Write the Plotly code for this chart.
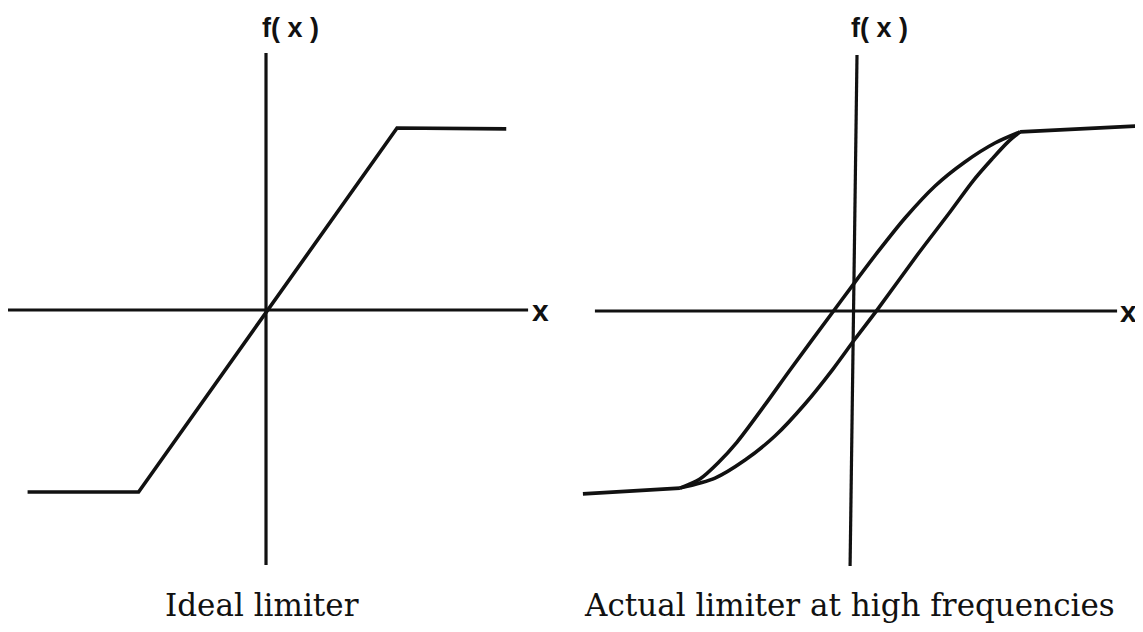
import plotly.graph_objects as go

# ---------------- data (units: saturation level = 1) ----------------
# Left panel: ideal limiter (piecewise linear)
ideal_x = [-1.31, -0.70, 0.72, 1.32]
ideal_y = [-1.00, -1.00, 1.00, 0.995]

# axis extents, left panel
left_haxis_x = [-1.418, 1.440]
left_haxis_y = [0.0, 0.0]
left_vaxis_x = [0.0, 0.0]
left_vaxis_y = [-1.401, 1.412]

# Right panel: actual limiter at high frequencies (hysteresis loop)
flat_low_x = [-1.495, -0.962]
flat_low_y = [-1.005, -0.973]
flat_high_x = [0.907, 1.549]
flat_high_y = [0.984, 1.016]

branch_up_x = [-0.962, -0.852, -0.753, -0.648, -0.495, -0.357, -0.126, 0.000,
               0.121, 0.275, 0.440, 0.604, 0.769, 0.907]
branch_up_y = [-0.973, -0.923, -0.835, -0.720, -0.516, -0.324, -0.011, 0.159,
               0.319, 0.511, 0.687, 0.819, 0.923, 0.984]

branch_dn_x = [-0.962, -0.769, -0.604, -0.440, -0.275, -0.121, 0.000, 0.121,
               0.346, 0.522, 0.648, 0.753, 0.841, 0.907]
branch_dn_y = [-0.973, -0.918, -0.819, -0.687, -0.511, -0.319, -0.154, 0.005,
               0.313, 0.544, 0.714, 0.835, 0.929, 0.984]

right_haxis_x = [-1.429, 1.440]
right_haxis_y = [0.0, 0.0]
right_vaxis_x = [-0.027, 0.011]
right_vaxis_y = [-1.401, 1.407]

captions = ["Ideal limiter", "Actual limiter at high frequencies"]
axis_names = ["f(\u00a0x\u00a0)", "x"]

# ---------------- figure ----------------
INK = "#111111"
LW = 3.6
AW = 3.2

fig = go.Figure()

def line(x, y, xa, ya, shape="linear", width=LW):
    fig.add_trace(go.Scatter(
        x=x, y=y, mode="lines", xaxis=xa, yaxis=ya,
        line=dict(color=INK, width=width, shape=shape, smoothing=0.8),
        hoverinfo="skip", showlegend=False))

# left panel
line(left_haxis_x, left_haxis_y, "x", "y", width=AW)
line(left_vaxis_x, left_vaxis_y, "x", "y", width=AW)
line(ideal_x, ideal_y, "x", "y")

# right panel
line(right_haxis_x, right_haxis_y, "x2", "y2", width=AW)
line(right_vaxis_x, right_vaxis_y, "x2", "y2", width=AW)
line(flat_low_x, flat_low_y, "x2", "y2")
line(flat_high_x, flat_high_y, "x2", "y2")
line(branch_up_x, branch_up_y, "x2", "y2", shape="spline")
line(branch_dn_x, branch_dn_y, "x2", "y2", shape="spline")

label_font = dict(family="Liberation Sans, Arial, sans-serif", size=27, color=INK)
x_font = dict(family="Liberation Sans, Arial, sans-serif", size=30, color=INK)
cap_font = dict(family="DejaVu Serif, serif", size=31, color=INK)

annotations = [
    dict(x=0.137, y=1.55, xref="x", yref="y", text="<b>" + axis_names[0] + "</b>",
         showarrow=False, font=label_font, xanchor="center", yanchor="middle"),
    dict(x=1.51, y=0.0, xref="x", yref="y", text="<b>" + axis_names[1] + "</b>",
         showarrow=False, font=x_font, xanchor="center", yanchor="middle"),
    dict(x=-0.02, y=-1.62, xref="x", yref="y", text=captions[0], showarrow=False,
         font=cap_font, xanchor="center", yanchor="middle"),
    dict(x=0.132, y=1.555, xref="x2", yref="y2", text="<b>" + axis_names[0] + "</b>",
         showarrow=False, font=label_font, xanchor="center", yanchor="middle"),
    dict(x=1.505, y=0.0, xref="x2", yref="y2", text="<b>" + axis_names[1] + "</b>",
         showarrow=False, font=x_font, xanchor="center", yanchor="middle"),
    dict(x=-0.03, y=-1.615, xref="x2", yref="y2", text=captions[1], showarrow=False,
         font=cap_font, xanchor="center", yanchor="middle"),
]

hidden = dict(visible=False, showgrid=False, zeroline=False, fixedrange=True)

# page body has an 8px default margin, so the figure is 1135x624 and
# axis ranges are set so the drawing lands where the reference has it
fig.update_layout(
    width=1135, height=624,
    margin=dict(l=0, r=0, t=0, b=0),
    paper_bgcolor="white", plot_bgcolor="white",
    showlegend=False,
    xaxis=dict(domain=[0, 0.5], range=[-1.4176, 1.7005], **hidden),
    yaxis=dict(domain=[0, 1], range=[-1.7692, 1.6593], anchor="x", **hidden),
    xaxis2=dict(domain=[0.5, 1], range=[-1.5357, 1.5824], anchor="y2", **hidden),
    yaxis2=dict(domain=[0, 1], range=[-1.7637, 1.6648], anchor="x2", **hidden),
    annotations=annotations,
)

fig.write_html("out.html")
